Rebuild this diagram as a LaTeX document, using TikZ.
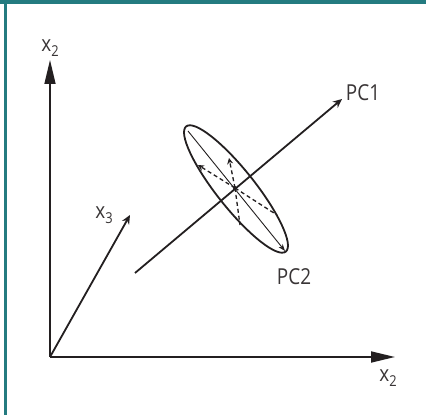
\documentclass[tikz,border=0pt]{standalone}
\usepackage{fontspec}
\setmainfont[FakeStretch=0.86]{Open Sans}
\usetikzlibrary{arrows.meta}
\definecolor{teal}{RGB}{36,123,128}
\definecolor{ink}{RGB}{35,31,32}
\newcommand{\lbl}[2]{#1\raisebox{-4.5pt}{\fontsize{15}{15}\selectfont #2}}
\tikzset{
  axis/.style={draw=ink, line width=1.8pt, -{Triangle[length=24pt,width=11pt]}},
  vec/.style={draw=ink, line width=1.8pt, -{Stealth[length=9pt,width=8pt]}},
  dash vec/.style={draw=ink, line width=1.3pt, dash pattern=on 4pt off 3pt, -{Stealth[length=6pt,width=6pt]}},
  dash line/.style={draw=ink, line width=1.3pt, dash pattern=on 4pt off 3pt},
  lab/.style={font=\fontsize{22}{24}\selectfont, text=ink!90, inner sep=0pt},
}
\begin{document}
\begin{tikzpicture}[x=1pt,y=1pt]
\useasboundingbox (0,0) rectangle (426,415);
\fill[white] (0,0) rectangle (426,415);
\fill[teal] (0,410.5) rectangle (426,415);
\fill[teal] (4,0) rectangle (7,415);
% coordinates
\coordinate (O) at (50,58);
\coordinate (xend) at (395,58);
\coordinate (yend) at (50,355);
\coordinate (x3end) at (130,200);
\coordinate (pcs) at (135,142);
\coordinate (pce) at (342,316);
\coordinate (C) at (235,227);
\coordinate (ta) at (188,284);
\coordinate (tb) at (285,164);
\coordinate (d1) at (198,250);
\coordinate (d2) at (229,257);
\coordinate (d3) at (240,190);
\coordinate (d4) at (277,200);
% axes
\draw[axis] (O) -- (xend);
\draw[axis, line width=1.5pt] (O) -- (yend);
\draw[vec] (O) -- (x3end);
\draw[vec] (pcs) -- (pce);
% ellipse
\draw[ink, line width=1.8pt, rotate around={-51.5:(236,226)}] (236,226) ellipse [x radius=80, y radius=19];
\draw[ink, line width=0.9pt, -{Stealth[length=7pt,width=5pt]}] (ta) -- (tb);
\draw[dash vec] (C) -- (d1);
\draw[dash vec] (C) -- (d2);
\draw[dash line] (C) -- (d3);
\draw[dash line] (C) -- (d4);
\fill[ink] (C) circle (2pt);
% labels
\node[lab] (lx2top) at (50,367) {\lbl{x}{2}};
\node[lab] (lx2bot) at (388,37) {\lbl{x}{2}};
\node[lab] (lx3) at (104,200) {\lbl{x}{3}};
\node[lab] (lpc1) at (363,322) {PC1};
\node[lab] (lpc2) at (294,138) {PC2};
\end{tikzpicture}
\end{document}
